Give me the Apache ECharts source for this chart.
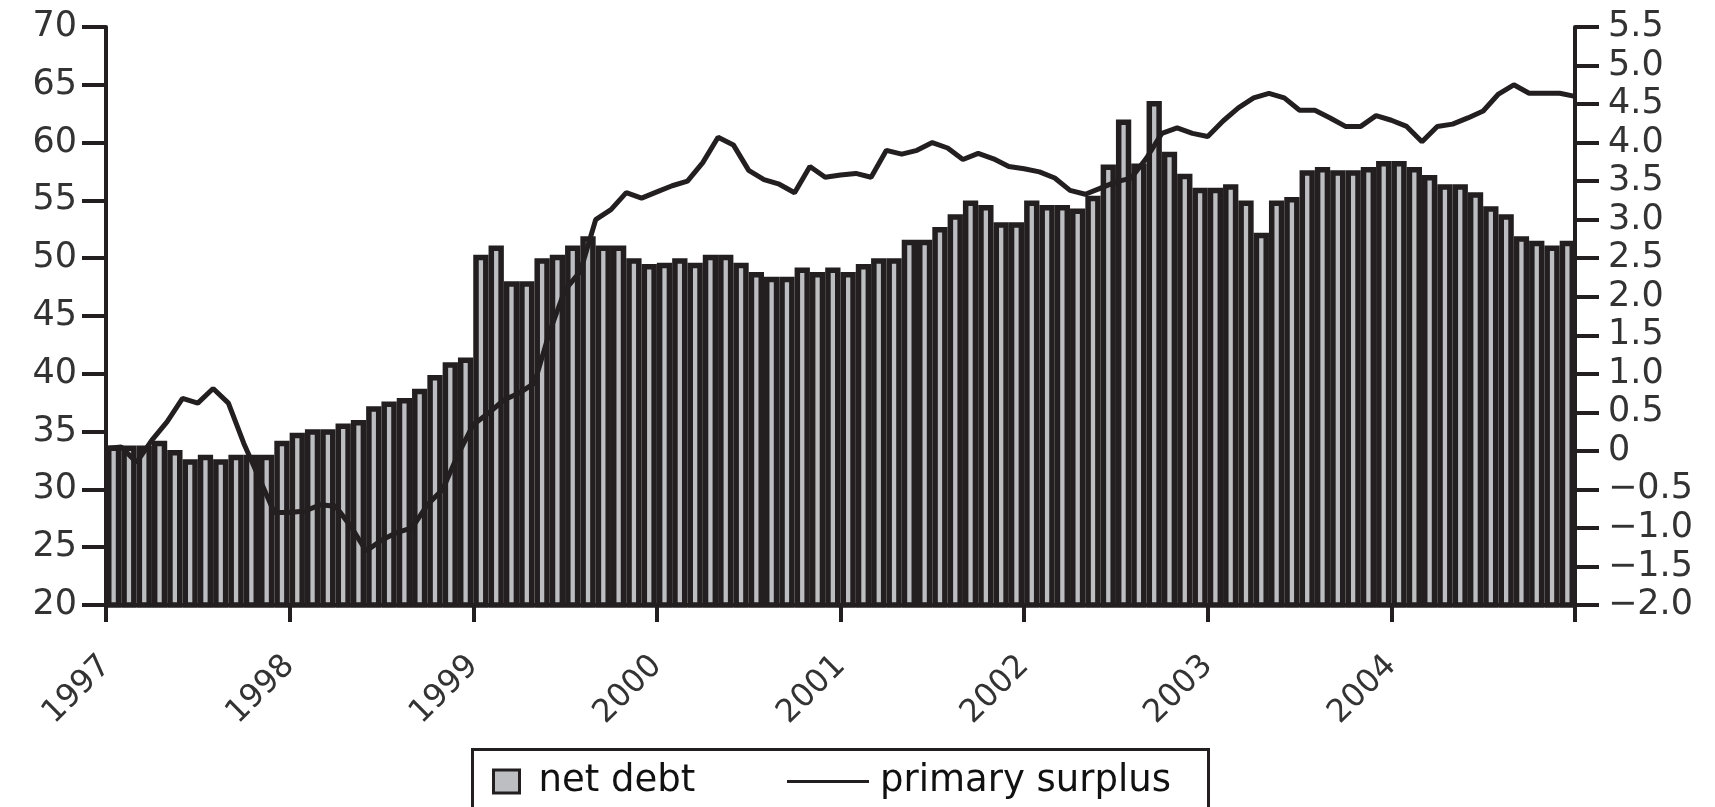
<!DOCTYPE html>
<html>
<head>
<meta charset="utf-8">
<title>Net debt and primary surplus</title>
<script src="https://cdn.jsdelivr.net/npm/echarts@6/dist/echarts.min.js"></script>
<style>
  html, body { margin: 0; padding: 0; background: #fff; }
  #chart { width: 1715px; height: 807px; }
</style>
</head>
<body>
<div id="chart"></div>
<script>
// tick labels
const years = ['1997', '1998', '1999', '2000', '2001', '2002', '2003', '2004'];

// net debt, monthly (left axis)
const netDebt1997 = [33.8, 33.8, 33.8, 34.2, 33.4, 32.6, 33.0, 32.6, 33.0, 33.0, 33.0, 34.2];
const netDebt1998 = [34.9, 35.2, 35.2, 35.7, 36.0, 37.2, 37.6, 37.9, 38.7, 39.9, 41.0, 41.4];
const netDebt1999 = [50.3, 51.1, 48.0, 48.0, 50.0, 50.3, 51.1, 51.9, 51.1, 51.1, 50.0, 49.5];
const netDebt2000 = [49.6, 50.0, 49.6, 50.3, 50.3, 49.6, 48.8, 48.4, 48.4, 49.2, 48.8, 49.2];
const netDebt2001 = [48.8, 49.5, 50.0, 50.0, 51.6, 51.6, 52.7, 53.8, 55.0, 54.6, 53.1, 53.1];
const netDebt2002 = [55.0, 54.6, 54.6, 54.3, 55.4, 58.1, 62.0, 58.2, 63.6, 59.2, 57.3, 56.1];
const netDebt2003 = [56.1, 56.4, 55.0, 52.2, 55.0, 55.3, 57.6, 57.9, 57.6, 57.6, 57.9, 58.4];
const netDebt2004 = [58.4, 57.9, 57.2, 56.4, 56.4, 55.7, 54.5, 53.8, 51.9, 51.5, 51.1, 51.5];

// primary surplus at month starts (right axis), plus the end of 2004
const primarySurplus1997 = [0.03, 0.05, -0.15, 0.14, 0.38, 0.68, 0.62, 0.81, 0.62, 0.1, -0.35, -0.8];
const primarySurplus1998 = [-0.8, -0.78, -0.7, -0.72, -0.98, -1.3, -1.16, -1.06, -1.0, -0.7, -0.5, -0.05];
const primarySurplus1999 = [0.34, 0.49, 0.66, 0.75, 0.88, 1.55, 2.09, 2.33, 3.0, 3.13, 3.35, 3.28];
const primarySurplus2000 = [3.36, 3.44, 3.5, 3.74, 4.07, 3.97, 3.64, 3.52, 3.46, 3.35, 3.69, 3.55];
const primarySurplus2001 = [3.58, 3.6, 3.55, 3.9, 3.85, 3.9, 4.0, 3.93, 3.78, 3.86, 3.79, 3.69];
const primarySurplus2002 = [3.66, 3.62, 3.54, 3.38, 3.33, 3.41, 3.49, 3.54, 3.8, 4.12, 4.19, 4.12];
const primarySurplus2003 = [4.08, 4.28, 4.45, 4.58, 4.64, 4.58, 4.42, 4.42, 4.32, 4.21, 4.21, 4.35];
const primarySurplus2004 = [4.29, 4.21, 4.01, 4.21, 4.24, 4.32, 4.41, 4.63, 4.75, 4.64, 4.64, 4.64];
const primarySurplusEnd = [4.6];

const netDebt = [].concat(netDebt1997, netDebt1998, netDebt1999, netDebt2000,
  netDebt2001, netDebt2002, netDebt2003, netDebt2004);
const primarySurplus = [].concat(primarySurplus1997, primarySurplus1998, primarySurplus1999,
  primarySurplus2000, primarySurplus2001, primarySurplus2002, primarySurplus2003,
  primarySurplus2004, primarySurplusEnd);

const months = [];
years.forEach((y) => {
  for (let m = 1; m <= 12; m++) months.push(y + '-' + String(m).padStart(2, '0'));
});
// line points sit on month boundaries, so one more category
const monthEdges = months.concat(['2005-01']);

const INK = '#231f20';
const FONT = 'DejaVu Sans';

const chart = echarts.init(document.getElementById('chart'));

chart.setOption({
  animation: false,
  backgroundColor: '#fff',
  textStyle: { fontFamily: FONT },
  grid: { left: 106, right: 140, top: 27, bottom: 202 },
  legend: [
    {
      data: [{ name: 'net debt', icon: 'rect' }],
      left: 487,
      top: 758,
      itemWidth: 26,
      itemHeight: 23,
      itemStyle: { borderWidth: 3, borderColor: INK },
      textStyle: { fontSize: 37, color: '#111', fontFamily: FONT, padding: [0, 0, 0, 14] },
    },
    {
      data: [{ name: 'primary surplus', icon: 'rect' }],
      left: 782,
      top: 758,
      itemWidth: 82,
      itemHeight: 3,
      itemStyle: { color: INK, borderWidth: 0 },
      textStyle: { fontSize: 37, color: '#111', fontFamily: FONT, padding: [0, 0, 0, 6] },
    },
  ],
  graphic: [
    {
      type: 'rect',
      left: 470,
      top: 747,
      shape: { width: 736, height: 100 },
      style: { fill: 'none', stroke: INK, lineWidth: 3 },
      silent: true,
    },
  ],
  xAxis: [
    {
      type: 'category',
      data: months,
      show: false,
    },
    {
      type: 'category',
      data: monthEdges,
      boundaryGap: false,
      position: 'bottom',
      axisLine: { show: true, lineStyle: { color: INK, width: 4 } },
      axisTick: {
        show: true,
        length: 17,
        interval: (i) => i % 12 === 0,
        lineStyle: { color: INK, width: 4 },
      },
      axisLabel: {
        interval: (i) => i % 12 === 0 && i < 96,
        formatter: (v) => v.slice(0, 4),
        rotate: 45,
        margin: 56,
        fontSize: 32,
        color: '#333',
        fontFamily: FONT,
      },
      splitLine: { show: false },
    },
  ],
  yAxis: [
    {
      type: 'value',
      min: 20,
      max: 70,
      interval: 5,
      position: 'left',
      axisLine: { show: true, lineStyle: { color: INK, width: 4 } },
      axisTick: { show: true, length: 24, lineStyle: { color: INK, width: 4 } },
      axisLabel: { margin: 29, fontSize: 35, color: '#333', fontFamily: FONT },
      splitLine: { show: false },
    },
    {
      type: 'value',
      min: -2,
      max: 5.5,
      interval: 0.5,
      position: 'right',
      axisLine: { show: true, lineStyle: { color: INK, width: 4 } },
      axisTick: { show: true, length: 24, lineStyle: { color: INK, width: 4 } },
      axisLabel: {
        margin: 33,
        fontSize: 35,
        color: '#333',
        fontFamily: FONT,
        formatter: (v) => (v === 0 ? '0' : (v < 0 ? '\u2212' : '') + Math.abs(v).toFixed(1)),
      },
      splitLine: { show: false },
    },
  ],
  series: [
    {
      name: 'net debt',
      type: 'bar',
      xAxisIndex: 0,
      yAxisIndex: 0,
      data: netDebt,
      barCategoryGap: '0%',
      itemStyle: { color: '#bdbec2', borderColor: INK, borderWidth: 5.5 },
    },
    {
      name: 'primary surplus',
      type: 'line',
      xAxisIndex: 1,
      yAxisIndex: 1,
      data: primarySurplus,
      symbol: 'none',
      lineStyle: { color: INK, width: 5 },
      itemStyle: { color: INK },
      z: 5,
    },
  ],
});
</script>
</body>
</html>
